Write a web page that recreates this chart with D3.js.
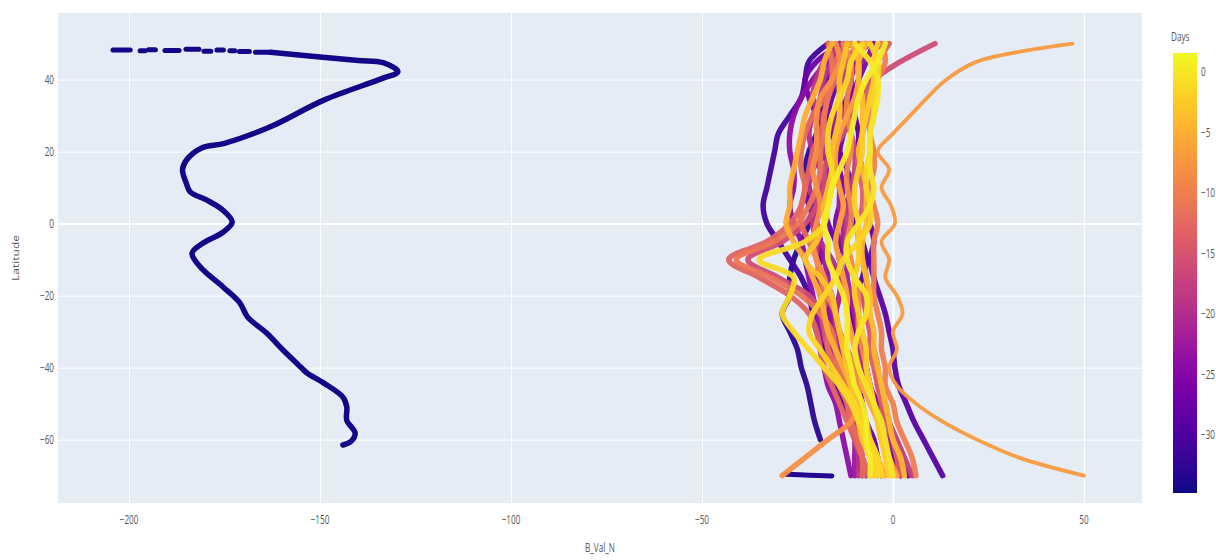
<!DOCTYPE html>
<html>
<head>
<meta charset="utf-8">
<script src="https://cdn.jsdelivr.net/npm/d3@7"></script>
<style>
  body { margin: 0; background: #fff; }
  text { font-family: "Open Sans", "Noto Sans", sans-serif; fill: #555; }
</style>
</head>
<body>
<svg id="chart" width="1216" height="560"></svg>
<script>
// ---- data ----
const xTicks = [-200, -150, -100, -50, 0, 50];
const yTicks = [-60, -40, -20, 0, 20, 40];
const dayTicks = [0, -5, -10, -15, -20, -25, -30];

// shared latitude grid for the profile traces
const latitudes = [50, 45, 40, 35, 30, 25, 20, 15, 10, 5, 0, -5, -10, -15, -20, -25, -30, -35, -40, -45, -50, -55, -60, -65, -70];

// day of each profile (colour) and its B_Val_N values along the latitude grid
const seriesDays = [-33, -31, -30, -29, -28, -27, -26, -24, -23, -22, -20, -19, -18, -16, -14, -13, -12, -11, -10, -9, -8, -7, -6, -5, -4, -3, -2, -1.5, -1, 0, 0.5];
const seriesValues = [
  [-12, -15, -17, -18, -19, -20, -22, -23, -22, -21, -22, -24, -26, -27, -27, -29, -27, -25, -24, -22.5, -21.5, -20.5, -19, null, null],
  [-17, -22, -23, -24, -27, -30, -31, -32, -33, -34, -33, -30, -27, -24, -22, -21, -20, -18, -16, -15, -13, -11, -10, -9, -8],
  [-14, -13, -11, -12, -14, -15, -14, -12, -11, -12, -10, -8, -7, -8, -10, -11, -10, -8, -7, -6, -5, -3, -2, 0, 2],
  [-8, -10, -11, -11, -10, -9, -9, -8, -7, -7, -6, -5, -6, -5, -3.5, -2, -1, 0, 0.5, 1.5, 3.5, 5.5, 8, 10.5, 13],
  [-9, -12, -14, -16, -17, -16, -14, -15, -17, -18, -17, -15, -14, -13, -14, -15, -14, -12, -10, -9, -8, -7, -5, -4, -3],
  [-13, -20, -23, -22, -20, -19, -20, -22, -23, -22, -20, -19, -19, -20, -19, -17, -15, -14, -13, -13, -12, -10, -9, -8, -7],
  [-5, -7, -9, -11, -12, -13, -14, -14, -13, -14, -15, -14, -12, -10, -10, -11, -10, -8, -7, -6, -4, -2, 0, 2, 4],
  [-11, -17, -21, -24, -26, -27, -27, -26, -26, -27, -26, -24, -23, -22, -21, -20, -19, -19, -18, -17, -15, -14, -13, -12, -11],
  [-7, -10, -13, -14, -15, -17, -18, -17, -18, -20, -20, -19, -18, -17, -17, -16, -16, -15, -14, -13, -12, -11, -10, -10, -10],
  [-3, -8, -12, -14, -15, -15, -16, -15, -14, -14, -13, -13, -12, -12, -11, -10, -9, -9, -8, -7, -5, -3, -1, 1, 2],
  [-14, -16, -18, -19, -21, -22, -21, -19, -19, -20, -21, -19, -16, -14, -14, -15, -15, -14, -12, -11, -9, -8, -7, -5, -4],
  [-13, -18, -20, -21, -19, -17, -18, -21, -22, -20, -21, -20, -20, -18, -16, -15, -15, -16, -15, -13, -12, -11, -10, -9, -9],
  [-6, -11, -13, -14, -13, -11, -10, -10, -11, -12, -12, -12, -12, -10, -8, -7, -6, -5, -4, -4, -2, -1, 1, 3, 5],
  [11, 2, -5, -9, -11, -13, -16, -18, -18, -20, -23, -29, -38, -30, -22, -19, -18, -17, -15, -13, -12, -10, -9, -8, -7],
  [-1, -4, -6, -7, -7, -8, -9, -9, -8, -8, -9, -9, -8, -7, -7, -7, -6, -6, -5, -4, -3, -2, 0, 1, 2],
  [-9, -12, -15, -17, -18, -19, -21, -22, -23, -24, -27, -33, -43, -35, -27, -22, -20, -19, -18, -16, -14, -12, -10, -8, -6],
  [-12, -15, -16, -18, -21, -23, -24, -24, -23, -24, -24, -22, -20, -19, -18, -18, -17, -17, -15, -14, -12, -11, -9, -8, -8],
  [-17, -16, -16, -17, -18, -18, -19, -19, -20, -22, -25, -31, -41, -32, -24, -19, -16, -15, -14, -12, -10, -8, -6, -4, -3],
  [-3, -2, -4, -5, -6, -6, -5, -5, -6, -5, -4, -5, -5, -5, -5, -4, -3, -3, -2, -2, 0, 1, 3, 5, 6],
  [-13, -11, -11, -12, -12, -11, -11, -12, -12, -11, -11, -12, -11, -10, -9, -9, -9, -8, -7, -6, -5, -4, -3, -1, 0],
  [-15, -14, -16, -19, -20, -20, -20, -21, -20, -19, -20, -21, -20, -18, -17, -15, -14, -12, -10, -9, -9, -11, -17, -23, -29],
  [47, 22, 14, 9, 4.5, 0, -4, -1, -3, -0.5, 0.5, -3, -1, -2, 1, 2.5, 0, 1, -1, 1, 6, 13, 22, 33, 50],
  [-11, -9, -9, -10, -12, -14, -15, -15, -14, -13, -14, -15, -14, -13, -12, -12, -11, -10, -9, -8, -6, -4, -3, -1, 1],
  [-16, -18, -19, -21, -23, -24, -25, -26, -27, -27, -28, -26, -23, -21, -19, -18, -17, -15, -13, -11, -9, -7, -6, -4, -2],
  [-7, -9, -9, -8, -8, -8, -9, -8, -7, -7, -7, -8, -8, -7, -6, -6, -5, -5, -4, -3, -2, -1, 0, 2, 3],
  [-12, -13, -14, -14, -14, -15, -16, -16, -17, -18, -18, -20, -23, -19, -16, -15, -14, -13, -12, -11, -10, -9, -8, -6, -5],
  [-4, -5, -5, -6, -7, -8, -8, -9, -10, -10, -9, -9, -9, -10, -10, -9, -8, -7, -7, -6, -5, -4, -3, -2, -1],
  [-6, -4, -4, -5, -5, -6, -6, -7, -7, -6, -6, -9, -13, -15, -18, -21, -22, -19, -16, -13, -10, -8, -6, -4, -3],
  [-8, -11, -12, -14, -16, -17, -17, -16, -16, -17, -18, -23, -35, -26, -27, -29, -26, -22, -18, -14, -11, -9, -7, -5, -4],
  [-10, -6, -4, -4, -5, -6, -6, -6, -5, -6, -9, -12, -12, -10, -7, -7, -9, -10, -9, -7, -5, -3, -2, -1, 0],
  [-2, -4, -7, -9, -10, -11, -12, -14, -16, -17, -18, -17, -17, -15, -13, -12, -12, -12, -11, -10, -8, -7, -7, -6, -6]
];

// the far-left profile (oldest day), traced point by point
const longDay = -34.5;
const longLat = [47.6, 46.3, 45.3, 44.7, 42.2, 40.4, 34.3, 26.9, 22.3, 21, 17.6, 14.9, 11.2, 8.8, 6.5, 3.7, 0.4, -2.4, -5.4, -8.2, -12, -17.6, -22, -25.9, -30.4, -35.1, -39.9, -41.5, -44.3, -48.2, -50.9, -54.6, -58.2, -60.6, -61.5];
const longVal = [-163, -150, -140, -133.5, -129.6, -133.5, -149, -163, -175, -181, -185, -186, -185, -184, -179.6, -175.4, -173, -175.4, -180.6, -183.5, -181.4, -175.4, -171, -169, -164, -159.7, -155, -153.4, -149, -144, -143, -143, -140.8, -142, -144];
// sparse stretch at its northern end: separate short runs
const sparseStart = [-204.2, -197.1, -194.9, -190.6, -185.1, -180.4, -177, -173.6, -171.1, -166.9];
const sparseEnd = [-199.7, -195.8, -193.1, -186.9, -181.7, -178.6, -175.3, -172.3, -168.5, -163];
const sparseLat = [48.2, 48.0, 48.3, 48.1, 48.4, 47.9, 48.2, 48.0, 47.8, 47.6];
// short southern run of an early profile
const tailDay = -33.5;
const tailVal = [-28, -22, -16];
const tailLat = [-69.6, -69.9, -70.1];

// ---- layout ----
const plot = { left: 58, right: 1142, top: 13, bottom: 503 };
const bar = { left: 1173, right: 1197, top: 53, bottom: 493 };
const squeeze = 0.68;

const svg = d3.select("#chart");

const x = d3.scaleLinear().domain([-218.6, 65.2]).range([plot.left, plot.right]);
const y = d3.scaleLinear().domain([58.5, -77.6]).range([plot.top, plot.bottom]);
const dayDomain = [-34.8, 1.6];
const color = d3.scaleSequential(d3.interpolatePlasma).domain(dayDomain);
const cy = d3.scaleLinear().domain([dayDomain[1], dayDomain[0]]).range([bar.top, bar.bottom]);

// plot background
svg.append("rect")
  .attr("x", plot.left).attr("y", plot.top)
  .attr("width", plot.right - plot.left).attr("height", plot.bottom - plot.top)
  .attr("fill", "#E5ECF6");

// grid lines
const gx = svg.append("g").attr("transform", `translate(0,${plot.bottom})`)
  .call(d3.axisBottom(x).tickValues(xTicks).tickSize(-(plot.bottom - plot.top)).tickFormat(""));
const gy = svg.append("g").attr("transform", `translate(${plot.left},0)`)
  .call(d3.axisLeft(y).tickValues(yTicks).tickSize(-(plot.right - plot.left)).tickFormat(""));
[gx, gy].forEach(g => {
  g.select(".domain").remove();
  g.selectAll(".tick line").attr("stroke", "#fff").attr("stroke-width", d => d === 0 ? 2 : 1);
});

// clip traces to the plot area
svg.append("clipPath").attr("id", "plotclip").append("rect")
  .attr("x", plot.left).attr("y", plot.top)
  .attr("width", plot.right - plot.left).attr("height", plot.bottom - plot.top);
const traces = svg.append("g").attr("clip-path", "url(#plotclip)");

const line = d3.line()
  .defined(d => d[0] != null)
  .x(d => x(d[0])).y(d => y(d[1]))
  .curve(d3.curveCatmullRom.alpha(0.5));

// far-left profile
traces.selectAll(".sparse")
  .data(sparseStart.map((s, i) => [[s, sparseLat[i]], [sparseEnd[i], sparseLat[i]]]))
  .join("path")
  .attr("class", "sparse")
  .attr("d", line)
  .attr("fill", "none")
  .attr("stroke", color(longDay))
  .attr("stroke-width", 5)
  .attr("stroke-linecap", "round");

traces.append("path")
  .attr("d", line(longVal.map((v, i) => [v, longLat[i]])))
  .attr("fill", "none")
  .attr("stroke", color(longDay))
  .attr("stroke-width", 5.5)
  .attr("stroke-linecap", "round")
  .attr("stroke-linejoin", "round");

traces.append("path")
  .attr("d", line(tailVal.map((v, i) => [v, tailLat[i]])))
  .attr("fill", "none")
  .attr("stroke", color(tailDay))
  .attr("stroke-width", 5)
  .attr("stroke-linecap", "round");

// profile cluster, older days first so recent ones sit on top
const order = d3.range(seriesDays.length).sort((a, b) => seriesDays[a] - seriesDays[b]);
traces.selectAll(".profile")
  .data(order)
  .join("path")
  .attr("class", "profile")
  .attr("d", i => line(seriesValues[i].map((v, k) => [v, latitudes[k]])))
  .attr("fill", "none")
  .attr("stroke", i => color(seriesDays[i]))
  .attr("stroke-width", i => seriesDays[i] === -7 ? 3.8 : 5.5)
  .attr("stroke-linecap", "round")
  .attr("stroke-linejoin", "round")
  .attr("stroke-opacity", 0.95);

// text labels (narrow rendering)
function label(sel, tx, ty, str, anchor, rotate) {
  return sel.append("text")
    .attr("transform", `translate(${tx},${ty})` + (rotate ? ` rotate(${rotate}) scale(1,${squeeze})` : ` scale(${squeeze},1)`))
    .attr("text-anchor", anchor)
    .attr("font-size", 12)
    .text(str);
}
const fmt = d => d < 0 ? "\u2212" + Math.abs(d) : String(d);

xTicks.forEach(d => label(svg, x(d), 524, fmt(d), "middle"));
yTicks.forEach(d => label(svg, 54, y(d) + 4, fmt(d), "end"));

// axis titles
label(svg, 600, 552, "B_Val_N", "middle");
label(svg, 19, 258, "Latitude", "middle", -90);

// colour bar
const grad = svg.append("defs").append("linearGradient")
  .attr("id", "daysgrad").attr("x1", 0).attr("y1", 1).attr("x2", 0).attr("y2", 0);
d3.range(0, 1.0001, 0.05).forEach(t => {
  grad.append("stop").attr("offset", t).attr("stop-color", d3.interpolatePlasma(t));
});
svg.append("rect")
  .attr("x", bar.left).attr("y", bar.top)
  .attr("width", bar.right - bar.left).attr("height", bar.bottom - bar.top)
  .attr("fill", "url(#daysgrad)");

label(svg, 1171, 41, "Days", "start");
dayTicks.forEach(d => label(svg, 1201, cy(d) + 4, fmt(d), "start"));
</script>
</body>
</html>
